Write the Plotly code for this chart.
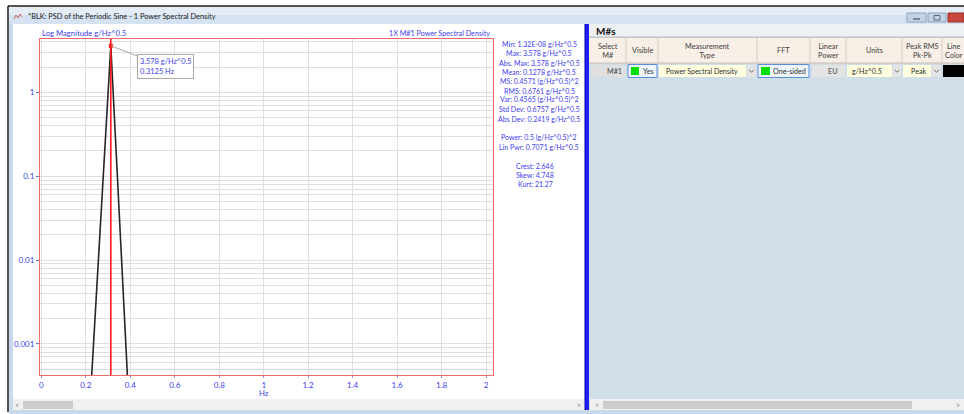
import math
import plotly.graph_objects as go

# ---------------- data ----------------
freq_hz = [0.0, 0.15625, 0.3125, 0.46875, 0.625, 0.78125, 0.9375, 1.09375,
           1.25, 1.40625, 1.5625, 1.71875, 1.875, 2.03125]
psd_mag = [2.4e-08, 2.6e-07, 3.578, 2.1e-08, 1.32e-08, 1.6e-08, 1.9e-08,
           1.5e-08, 1.4e-08, 1.7e-08, 1.5e-08, 1.8e-08, 1.4e-08, 1.6e-08]

x_tick_vals = [0, 0.2, 0.4, 0.6, 0.8, 1.0, 1.2, 1.4, 1.6, 1.8, 2.0]
x_tick_text = ["0", "0.2", "0.4", "0.6", "0.8", "1", "1.2", "1.4", "1.6", "1.8", "2"]
y_tick_vals = [0.001, 0.01, 0.1, 1]
y_tick_text = ["0.001", "0.01", "0.1", "1"]
y_minor_vals = [m * d for d in (0.0001, 0.001, 0.01, 0.1, 1) for m in range(2, 10)]

stats_lines = [
    "Min: 1.32E-08 g/Hz^0.5", "Max: 3.578 g/Hz^0.5", "Abs. Max: 3.578 g/Hz^0.5",
    "Mean: 0.1278 g/Hz^0.5", "MS: 0.4571 (g/Hz^0.5)^2", "RMS: 0.6761 g/Hz^0.5",
    "Var: 0.4565 (g/Hz^0.5)^2", "Std Dev: 0.6757 g/Hz^0.5", "Abs Dev: 0.2419 g/Hz^0.5",
    "", "Power: 0.5 (g/Hz^0.5)^2", "Lin Pwr: 0.7071 g/Hz^0.5",
]
shape_stats = ["Crest: 2.646", "Skew: 4.748", "Kurt: 21.27"]

window_title = "*BLK: PSD of the Periodic Sine - 1 Power Spectral Density"
y_title = "Log Magnitude g/Hz^0.5"
trace_title = "1X M#1 Power Spectral Density"
x_title = "Hz"

table_headers = ["Select<br>M#", "Visible", "Measurement<br>Type", "FFT",
                 "Linear<br>Power", "Units", "Peak RMS<br>Pk-Pk", "Line<br>Color"]
table_row = ["M#1", "Yes", "Power Spectral Density", "One-sided", "EU",
             "g/Hz^0.5", "Peak"]

# ---------------- layout constants ----------------
W, H = 964, 414
PL, PR, PT, PB = 40, 493, 39, 375
FONT = "Lato"
BLUE = "#4040f0"
GRID = "#dedede"
RED_FRAME = "#f06a6a"


def px(x):
    return (x - PL) / (PR - PL)


def py(y):
    return (PB - y) / (PB - PT)


shapes = []
annotations = []


def rect(x0, y0, x1, y1, fill, line=None, lw=1):
    shapes.append(dict(type="rect", xref="paper", yref="paper",
                       x0=px(x0), x1=px(x1), y0=py(y1), y1=py(y0),
                       fillcolor=fill, layer="above",
                       line=dict(color=line or fill, width=lw if line else 0)))


def seg(x0, y0, x1, y1, color, lw=1):
    shapes.append(dict(type="line", xref="paper", yref="paper",
                       x0=px(x0), x1=px(x1), y0=py(y0), y1=py(y1),
                       layer="above", line=dict(color=color, width=lw)))


def chevron(cx, cy, color="#707070"):
    seg(cx - 2.5, cy - 1.2, cx, cy + 1.3, color)
    seg(cx, cy + 1.3, cx + 2.5, cy - 1.2, color)


def txt(x, y, s, size=8, color=BLUE, anchor="center", bold=False):
    annotations.append(dict(x=px(x), y=py(y), xref="paper", yref="paper",
                            text=f"<b>{s}</b>" if bold else s, showarrow=False,
                            xanchor=anchor, yanchor="middle", borderpad=0,
                            font=dict(family=FONT, size=size, color=color)))


# ---------------- window chrome ----------------
rect(9, 7, 964, 15, "#e4ecf6")
rect(9, 15, 964, 24, "#d5e2f1")
seg(8, 6, 964, 6, "#1a1a1a", 1.5)
seg(8, 6, 8, 412, "#1a1a1a", 1.5)
rect(9, 24, 13, 414, "#c9d9eb")
rect(9, 410, 964, 414, "#c9d9eb")
# title icon
shapes.append(dict(type="path", xref="paper", yref="paper", layer="above",
                   path=f"M{px(14)},{py(19)} L{px(16)},{py(15)} L{px(18)},{py(18)} "
                        f"L{px(20)},{py(14)} L{px(22)},{py(17)}",
                   line=dict(color="#d06060", width=1)))
txt(27, 16, window_title, size=7.4, color="#202020", anchor="left")
# window buttons
rect(907, 13, 926, 22, "#c3d3e6", "#8ea4c0")
rect(928, 13, 946, 22, "#c3d3e6", "#8ea4c0")
rect(948, 13, 964, 22, "#c8473c", "#9a3028")
seg(913, 19, 920, 19, "#5a6a80", 1.5)
rect(934, 15.5, 940, 20, "rgba(0,0,0,0)", "#5a6a80")

# splitter and right panel
rect(589, 24, 964, 410, "#cfdee7")
rect(585, 24, 589, 410, "#1e1eff")
seg(585, 24, 585, 410, "#0000a0", 1)
rect(589, 24, 964, 37, "#eef1f4")
txt(595, 31, "M#s", size=10, color="#101010", anchor="left", bold=True)
seg(589, 37, 964, 37, "#b8b8b8")
rect(589, 38, 964, 63, "#f8efe6")
seg(589, 63, 964, 63, "#c8c0b8")

col_edges = [590, 626, 658, 757, 810, 846, 902, 942, 990]
for xe in col_edges[1:-1]:
    seg(xe, 38, xe, 63, "#d4ccc4")
for i, head in enumerate(table_headers):
    if i == len(table_headers) - 1:
        txt(944, 51, head, size=7.3, color="#404040", anchor="left")
    else:
        cx = (col_edges[i] + col_edges[i + 1]) / 2
        txt(cx, 51, head, size=7.3, color="#404040")

# data row
rect(591, 65, 625, 77, "#e0e0e0")
txt(623, 71, table_row[0], size=7.2, color="#404040", anchor="right")
rect(628, 64.5, 657, 77.5, "#eef4fb", "#5a8ed8")
rect(631, 67, 639, 75, "#00e000")
txt(655, 71, table_row[1], size=7.2, color="#303030", anchor="right")
rect(659, 65, 746, 77, "#ffffe0")
txt(702, 71, table_row[2], size=7.0, color="#303030")
rect(747, 65, 756, 77, "#e4e4e4")
chevron(751.5, 71)
rect(758, 64.5, 809, 77.5, "#eef4fb", "#5a8ed8")
rect(761, 67, 770, 75, "#00e000")
txt(789, 71, table_row[3], size=7.2, color="#303030")
rect(812, 65, 845, 77, "#e4e4e4")
txt(838, 71, table_row[4], size=7.2, color="#404040", anchor="right")
rect(847, 65, 892, 77, "#ffffe0")
txt(867, 71, table_row[5], size=7.2, color="#303030")
rect(893, 65, 901, 77, "#e4e4e4")
chevron(897, 71)
rect(903, 65, 931, 77, "#ffffe0")
txt(918, 71, table_row[6], size=7.2, color="#303030")
rect(932, 65, 941, 77, "#e4e4e4")
chevron(936.5, 71)
rect(943, 65, 964, 77, "#000000")

# scrollbars
rect(13, 399, 584, 410, "#f0f0f0")
rect(23, 401, 73, 409, "#cdcdcd")
txt(17, 405, "<", size=7, color="#707070")
txt(579, 405, ">", size=7, color="#707070")
rect(590, 399, 964, 410, "#f0f0f0")
rect(603, 401, 912, 409, "#cdcdcd")
txt(597, 405, "<", size=7, color="#707070")
txt(958, 405, ">", size=7, color="#707070")

# ---------------- chart text ----------------
txt(41, 33, y_title, size=7.7, anchor="left")
txt(491, 33, trace_title, size=7.2, anchor="right")
txt(264, 393, x_title, size=7.8)
line_step = 9.33
for i, s in enumerate(stats_lines):
    if s:
        txt(539, 44 + i * line_step, s, size=7.0)
for i, s in enumerate(shape_stats):
    txt(535, 165.7 + i * line_step, s, size=7.0)

# ---------------- chart ----------------
peak_i = max(range(len(psd_mag)), key=lambda i: psd_mag[i])
peak_f, peak_v = freq_hz[peak_i], psd_mag[peak_i]

fig = go.Figure()
fig.add_trace(go.Scatter(x=freq_hz, y=psd_mag, mode="lines",
                         line=dict(color="#262626", width=1.6),
                         hoverinfo="skip", showlegend=False))
fig.add_trace(go.Scatter(x=[peak_f], y=[peak_v], mode="markers",
                         marker=dict(color="#ff1010", size=4, symbol="square"),
                         hoverinfo="skip", showlegend=False))

# cursor at the peak
shapes.append(dict(type="line", xref="x", yref="paper", x0=peak_f, x1=peak_f,
                   y0=0, y1=1, layer="above", line=dict(color="#ff1a1a", width=1.6)))

# peak readout (annotation positions on a log axis are given in log10 units)
annotations.append(dict(
    x=peak_f, y=math.log10(peak_v), yref="y", xref="x",
    text=f"{peak_v:.3f} g/Hz^0.5<br>{peak_f:.4f} Hz", align="left",
    showarrow=True, arrowhead=0, arrowwidth=1, arrowcolor="#a8a8a8",
    ax=55, ay=21, standoff=0, bgcolor="#ffffff", bordercolor="#a8a8a8",
    borderwidth=1, borderpad=2, font=dict(family=FONT, size=7.4, color=BLUE)))

fig.update_layout(
    width=W, height=H, autosize=False,
    margin=dict(l=PL, r=W - PR, t=PT, b=H - PB, pad=0),
    paper_bgcolor="#ffffff", plot_bgcolor="#ffffff",
    font=dict(family=FONT, size=8, color=BLUE),
    shapes=shapes, annotations=annotations, showlegend=False,
    xaxis=dict(range=[-0.006, 2.03125], tickvals=x_tick_vals, ticktext=x_tick_text,
               showgrid=True, gridcolor=GRID, gridwidth=1, zeroline=False,
               showline=True, linecolor=RED_FRAME, linewidth=1, mirror=True,
               ticks="outside", ticklen=2, tickcolor="#9090e0",
               tickfont=dict(family=FONT, size=8, color=BLUE)),
    yaxis=dict(type="log", range=[-3.37, 0.635], tickvals=y_tick_vals,
               ticktext=y_tick_text, showgrid=True, gridcolor=GRID, gridwidth=1,
               zeroline=False, showline=True, linecolor=RED_FRAME, linewidth=1,
               mirror=True, ticks="outside", ticklen=3, tickcolor="#7070d0",
               tickfont=dict(family=FONT, size=8, color=BLUE),
               minor=dict(tickvals=y_minor_vals, showgrid=True, gridcolor=GRID,
                          ticklen=0)),
)

fig.write_html("out.html")
